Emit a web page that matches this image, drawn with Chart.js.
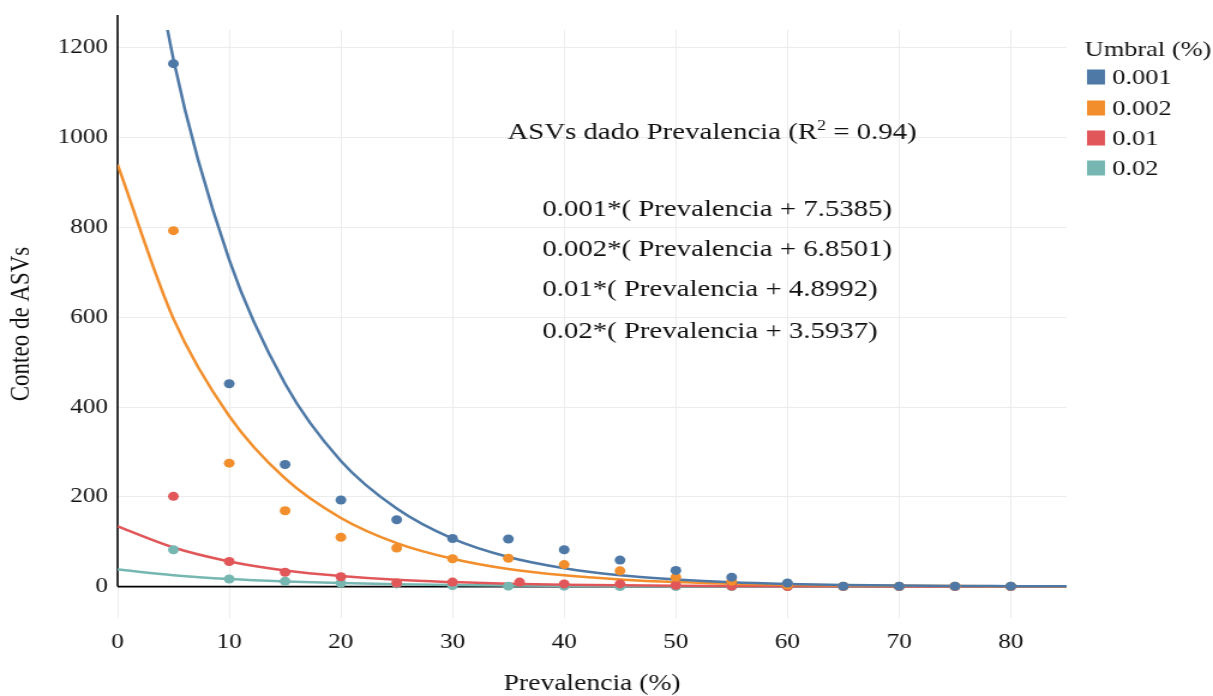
<!DOCTYPE html>
<html>
<head>
<meta charset="utf-8">
<script src="https://cdn.jsdelivr.net/npm/chart.js@4.4.1/dist/chart.umd.min.js"></script>
<style>
    body { margin: 0; background: #fff; }
</style>
</head>
<body>
<!-- el original viene estirado a lo ancho: el canvas se dibuja más angosto y se estira -->
<canvas id="grafico" width="1011" height="696" style="display:block;width:1213px;height:696px"></canvas>
<script>
// Datos
const prevalencia = [5, 10, 15, 20, 25, 30, 35, 40, 45, 50, 55, 60, 65, 70, 75, 80];
const prevalenciaRojo = [5, 10, 15, 20, 25, 30, 36, 40, 45, 50, 55, 60, 65, 70, 75, 80];
const asv001 = [1165, 452, 272, 193, 149, 107, 106, 82, 59, 36, 21, 8, 1, 1, 1, 1];
const asv002 = [793, 275, 169, 110, 86, 62, 63, 49, 35, 21, 12, 3, 1, 1, 1, 1];
const asv01 = [201, 56, 32, 22, 8, 10, 10, 6, 6, 3, 1, 0, 0, 0, 0, 0];
const asv02 = [82, 17, 12, 8, 6, 2, 1, 1, 0, 0, 0, 0, 0, 0, 0, 0];

// Curvas ajustadas (valores leidos sobre las lineas)
const xCurva = [0, 5, 10, 15, 20, 25, 30, 35, 40, 45, 50, 55, 60, 65, 70, 75, 80, 85];
const curva001 = [1900, 1175, 728, 452, 280, 174, 107, 66, 41, 25, 16, 9.7, 6, 3.7, 2.3, 1.4, 0.9, 0.5];
const curva002 = [940, 597, 380, 241, 153, 97, 62, 39, 25, 16, 10, 6.4, 4, 2.6, 1.7, 1.1, 0.7, 0.4];
const curva01 = [134, 87, 56, 36, 23.5, 15, 10, 6.4, 4.1, 2.7, 1.7, 1.1, 0.7, 0.5, 0.3, 0.2, 0.1, 0.1];
const curva02 = [38, 25.5, 17, 11.5, 7.7, 5.2, 3.5, 2.3, 1.6, 1.0, 0.7, 0.5, 0.3, 0.2, 0.1, 0.1, 0.1, 0];

const umbrales = ['0.001', '0.002', '0.01', '0.02'];
const colores = ['#4e79a7', '#f28e2b', '#e15759', '#76b7b2'];
const xTicks = [0, 10, 20, 30, 40, 50, 60, 70, 80];
const yTicks = [0, 200, 400, 600, 800, 1000, 1200];

const titulo = 'ASVs dado Prevalencia (R';
const ecuaciones = [
    '0.001*( Prevalencia + 7.5385)',
    '0.002*( Prevalencia + 6.8501)',
    '0.01*( Prevalencia + 4.8992)',
    '0.02*( Prevalencia + 3.5937)'
];

const fuente = "'Liberation Serif', 'Times New Roman', serif";
const colorTexto = '#111';
Chart.defaults.font.family = fuente;
Chart.defaults.color = colorTexto;

function puntos(xs, ys) {
    return xs.map((x, i) => ({ x: x, y: ys[i] }));
}

const seriesPuntos = [asv001, asv002, asv01, asv02];
const seriesCurva = [curva001, curva002, curva01, curva02];

const datasets = [];
seriesCurva.forEach((serie, i) => {
    datasets.push({
        label: 'ajuste ' + umbrales[i],
        data: puntos(xCurva, serie),
        showLine: true,
        borderColor: colores[i],
        backgroundColor: colores[i],
        borderWidth: 2.5,
        pointRadius: 0,
        cubicInterpolationMode: 'monotone',
        order: 2
    });
});
seriesPuntos.forEach((serie, i) => {
    datasets.push({
        label: umbrales[i],
        data: puntos(i === 2 ? prevalenciaRojo : prevalencia, serie),
        showLine: false,
        backgroundColor: colores[i],
        borderWidth: 0,
        pointRadius: 4.5,
        pointHoverRadius: 4.5,
        order: 1
    });
});

// Lineas del cero, texto de las ecuaciones y leyenda
const extras = {
    id: 'extras',
    beforeDatasetsDraw(chart) {
        const ctx = chart.ctx;
        const x0 = chart.scales.x.getPixelForValue(0);
        const y0 = chart.scales.y.getPixelForValue(0);
        ctx.save();
        ctx.strokeStyle = '#000';
        ctx.lineWidth = 1.6;
        ctx.beginPath();
        ctx.moveTo(x0, 15);
        ctx.lineTo(x0, y0);
        ctx.moveTo(chart.chartArea.left, y0);
        ctx.lineTo(chart.chartArea.right, y0);
        ctx.stroke();
        ctx.restore();
    },
    afterDraw(chart) {
        const ctx = chart.ctx;
        ctx.save();
        ctx.fillStyle = colorTexto;
        ctx.textBaseline = 'middle';
        ctx.textAlign = 'left';

        ctx.font = '24px ' + fuente;
        let x = 423;
        ctx.fillText(titulo, x, 133);
        x += ctx.measureText(titulo).width;
        ctx.font = '15px ' + fuente;
        ctx.fillText('2', x, 126);
        x += ctx.measureText('2').width;
        ctx.font = '24px ' + fuente;
        ctx.fillText(' = 0.94)', x, 133);

        const yEc = [210, 250, 290, 332];
        ecuaciones.forEach((t, i) => ctx.fillText(t, 452, yEc[i]));

        // leyenda
        ctx.font = '22px ' + fuente;
        ctx.fillText('Umbral (%)', 904, 50);
        const yLey = [77, 108, 138, 168];
        umbrales.forEach((u, i) => {
            ctx.fillStyle = colores[i];
            ctx.fillRect(906, yLey[i] - 7.5, 15, 15);
            ctx.fillStyle = colorTexto;
            ctx.fillText(u, 927, yLey[i] + 1);
        });
        ctx.restore();
    }
};

new Chart(document.getElementById('grafico'), {
    type: 'scatter',
    data: { datasets: datasets },
    plugins: [extras],
    options: {
        responsive: false,
        animation: false,
        devicePixelRatio: 1,
        layout: { padding: { top: 30, right: 122, left: 0, bottom: 0 } },
        plugins: {
            legend: { display: false },
            tooltip: { enabled: false }
        },
        scales: {
            x: {
                type: 'linear',
                min: 0,
                max: 85,
                afterBuildTicks: (s) => { s.ticks = xTicks.map(v => ({ value: v })); },
                afterFit: (s) => { s.height = 78; },
                grid: { color: '#ececec', drawTicks: false },
                border: { display: false },
                ticks: { padding: 12, font: { size: 21 }, color: colorTexto, callback: (v) => String(v) },
                title: {
                    display: true,
                    text: 'Prevalencia (%)',
                    font: { size: 23, lineHeight: 1 },
                    padding: { top: 0, bottom: 1 },
                    color: colorTexto
                }
            },
            y: {
                type: 'linear',
                min: -70,
                max: 1240,
                afterBuildTicks: (s) => { s.ticks = yTicks.map(v => ({ value: v })); },
                afterFit: (s) => { s.width = 98; },
                grid: { color: '#ececec', drawTicks: false },
                border: { display: false },
                ticks: { padding: 8, font: { size: 21 }, color: colorTexto, callback: (v) => String(v) },
                title: {
                    display: true,
                    text: 'Conteo de ASVs',
                    font: { size: 23, lineHeight: 1.2 },
                    padding: { top: 4, bottom: 0 },
                    color: colorTexto
                }
            }
        }
    }
});
</script>
</body>
</html>
